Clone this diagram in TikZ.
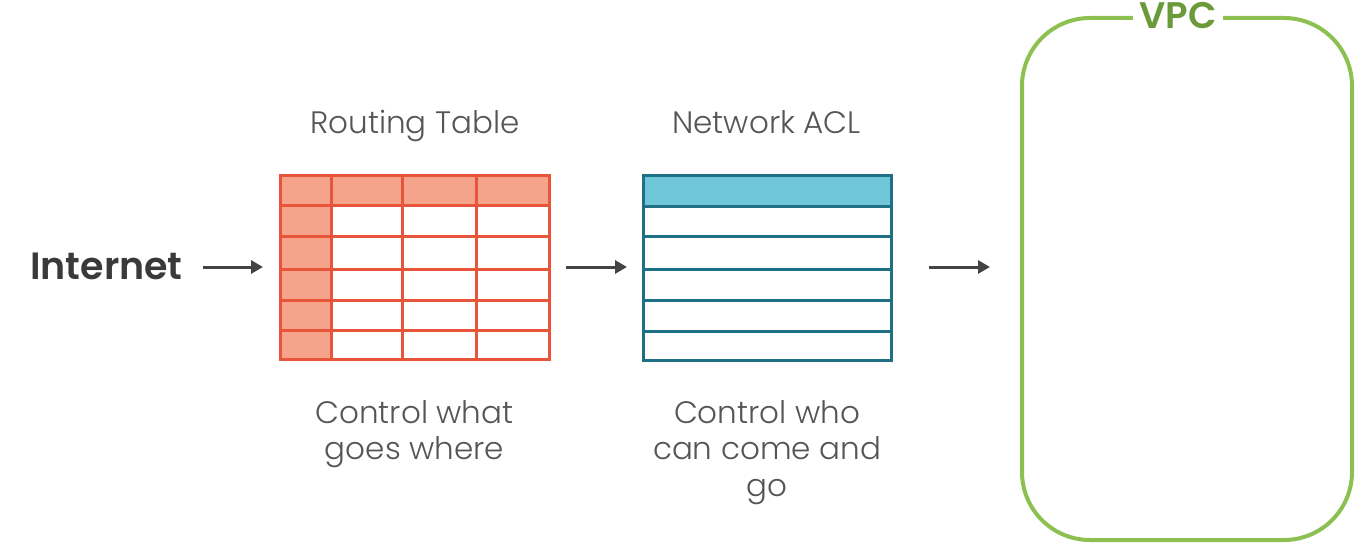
\documentclass[tikz,border=0pt]{standalone}
\usepackage{fontspec}
\setmainfont{Poppins}[UprightFont=* Light, BoldFont=* SemiBold]
\usetikzlibrary{arrows.meta}
\definecolor{rtline}{HTML}{E9553A}
\definecolor{rtfill}{HTML}{F6A38C}
\definecolor{acline}{HTML}{1F6F85}
\definecolor{acfill}{HTML}{6FC6D9}
\definecolor{vpcline}{HTML}{8CC152}
\definecolor{vpctext}{HTML}{6A9A3A}
\definecolor{txt}{HTML}{555555}
\definecolor{dark}{HTML}{3A3A3A}
\definecolor{arr}{HTML}{444444}
\begin{document}
\begin{tikzpicture}[x=1pt,y=-1pt,
  lbl/.style={text=txt,font=\fontsize{31}{36.5}\selectfont,align=center,inner sep=0pt},
  conn/.style={draw=arr,line width=3pt,-{Triangle[length=12pt,width=13pt]}},
  box/.style={inner sep=0pt,outer sep=0pt}]
\useasboundingbox (0,0) rectangle (1362,551);
% routing table
\node[box,minimum width=270pt,minimum height=184pt] (rt) at (414,267) {};
\fill[rtfill] (280,175) rectangle (549,205.7);
\fill[rtfill] (280,175) rectangle (331.7,359);
\begin{scope}[rtline,line width=3pt]
\draw (280,175) rectangle (549,359);
\foreach \x in {331.7,402.7,476} \draw (\x,175) -- (\x,359);
\foreach \y in {205.7,236.7,269,300,330.7} \draw (280,\y) -- (549,\y);
\end{scope}
% ACL
\node[box,minimum width=248pt,minimum height=184pt] (acl) at (767,267) {};
\fill[acfill] (643,175) rectangle (891,206.7);
\begin{scope}[acline,line width=3pt]
\draw (643,175) rectangle (891,360);
\foreach \y in {206.7,236.7,269,300,331} \draw (643,\y) -- (891,\y);
\end{scope}
% VPC
\draw[vpcline,line width=4pt,rounded corners=68pt] (1022,18) rectangle (1352,540);
\node[box,minimum width=332pt,minimum height=524pt] (vpc) at (1187,279) {};
\node[fill=white,inner xsep=6pt,inner ysep=0pt,text=vpctext,font=\fontsize{37}{37}\bfseries,anchor=base] (vpclbl) at (1178,28.5) {VPC};
% texts
\node[text=dark,font=\fontsize{38}{38}\bfseries,inner sep=0pt,anchor=base west] (inet) at (30,279.5) {Internet};
\node[lbl,anchor=base] (rtt) at (415,133.5) {Routing Table};
\node[lbl,anchor=base] (aclt) at (766.5,133.5) {Network ACL};
\node[lbl,anchor=north] (rtd) at (414.5,400) {Control what\\goes where};
\node[lbl,anchor=north] (acld) at (767,400) {Control who\\can come and\\go};
% arrows
\draw[conn,shorten <=20pt,shorten >=16pt] (inet.east |- rt.west) -- (rt.west);
\draw[conn,shorten <=17pt,shorten >=16pt] (rt.east) -- (acl.west);
\draw[conn,shorten <=38pt,shorten >=31pt] (acl.east) -- (vpc.west |- acl.east);
\end{tikzpicture}
\end{document}
